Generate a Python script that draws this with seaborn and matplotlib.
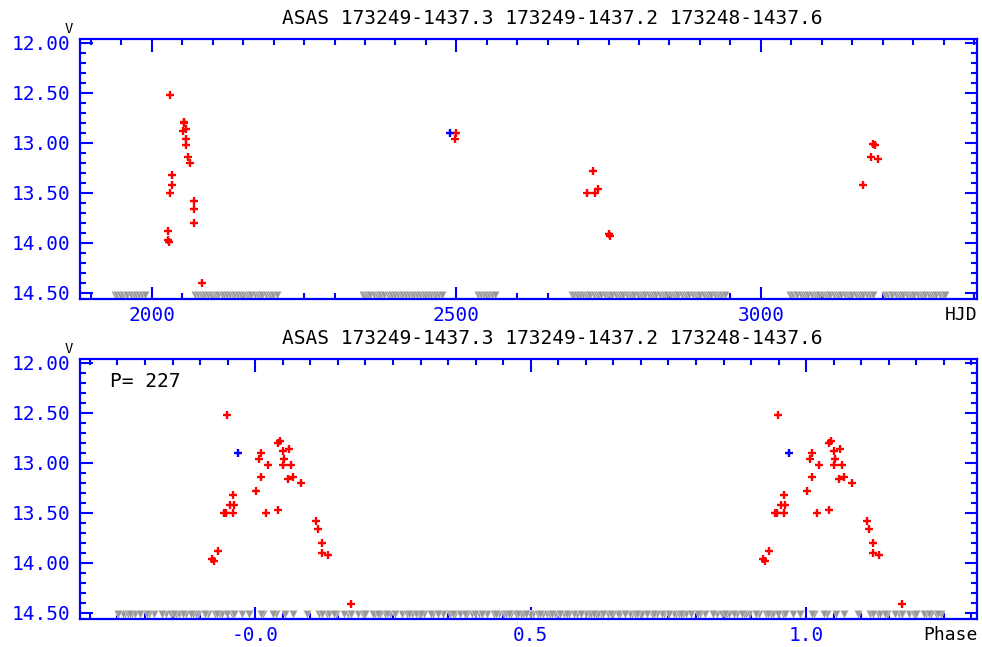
import matplotlib
matplotlib.use("Agg")
import matplotlib.pyplot as plt
import seaborn as sns
import numpy as np
import pandas as pd
from matplotlib.ticker import MultipleLocator

# ---------------- data ----------------
title_text = "ASAS 173249-1437.3 173249-1437.2 173248-1437.6"
period = 227.0
epoch = 1814.6

# top panel: detections (HJD-2450000, V mag)
red_hjd = [2030, 2052, 2053, 2056, 2051, 2056, 2056, 2059, 2063, 2033, 2033, 2030,
           2069, 2069, 2069, 2027, 2027, 2028, 2083,
           2500, 2498,
           2724, 2714, 2727, 2733, 2751, 2753,
           3185, 3187, 3181, 3192, 3168]
red_mag = [12.52, 12.79, 12.80, 12.86, 12.88, 12.96, 13.02, 13.14, 13.20, 13.32, 13.42, 13.50,
           13.58, 13.66, 13.80, 13.88, 13.97, 13.99, 14.40,
           12.90, 12.96,
           13.28, 13.50, 13.50, 13.46, 13.91, 13.93,
           13.01, 13.02, 13.14, 13.16, 13.42]
blue_hjd = [2490]
blue_mag = [12.90]

# bottom panel: detections read in phase
red_phase = [-0.051, 0.006, 0.010, 0.024, 0.010, 0.002, 0.020, 0.042, 0.042, 0.045,
             0.050, 0.061, 0.053, 0.050, 0.065, 0.060, 0.068, 0.083, -0.041, -0.045,
             -0.038, -0.056, -0.053, -0.041, -0.067, -0.078, -0.074, 0.111, 0.114,
             0.122, 0.122, 0.132, 0.174]
red_pmag = [12.52, 12.96, 12.90, 13.02, 13.14, 13.28, 13.50, 13.47, 12.80, 12.78,
            12.88, 12.86, 12.96, 13.02, 13.02, 13.16, 13.14, 13.20, 13.32, 13.42,
            13.42, 13.50, 13.50, 13.50, 13.88, 13.96, 13.98, 13.58, 13.66,
            13.80, 13.90, 13.92, 14.41]
blue_phase = [-0.031]
blue_pmag = [12.90]

# upper limits (fainter than plot limit), HJD-2450000
limit_hjd = [1939, 1943, 1947, 1952, 1957, 1960, 1965, 1970, 1974, 1979, 1983, 1988,
             2071, 2075, 2080, 2084, 2087, 2093, 2097, 2102, 2106, 2109, 2115, 2119,
             2123, 2128, 2134, 2137, 2141, 2146, 2151, 2156, 2160, 2163, 2169, 2174,
             2178, 2181, 2187, 2192, 2196, 2199, 2205,
             2346, 2351, 2355, 2358, 2364, 2369, 2373, 2376, 2382, 2387, 2391, 2394,
             2400, 2405, 2409, 2412, 2418, 2423, 2427, 2430, 2436, 2441, 2445, 2448,
             2454, 2459, 2463, 2466, 2472, 2476,
             2535, 2540, 2545, 2549, 2553, 2558, 2563,
             2690, 2694, 2698, 2703, 2708, 2713, 2717, 2720, 2726, 2731, 2735, 2738,
             2744, 2749, 2753, 2756, 2762, 2767, 2771, 2774, 2780, 2785, 2789, 2792,
             2798, 2803, 2807, 2810, 2816, 2821, 2825, 2828, 2834, 2839, 2843, 2846,
             2852, 2857, 2861, 2864, 2870, 2875, 2879, 2882, 2888, 2893, 2897, 2900,
             2906, 2911, 2915, 2918, 2924, 2929, 2933, 2936, 2941,
             3048, 3053, 3057, 3060, 3066, 3071, 3075, 3078, 3084, 3089, 3093, 3096,
             3102, 3107, 3111, 3114, 3120, 3125, 3129, 3132, 3138, 3143, 3147, 3150,
             3156, 3161, 3165, 3168, 3174, 3179, 3184,
             3204, 3209, 3213, 3216, 3222, 3227, 3231, 3234, 3240, 3245, 3249, 3252,
             3258, 3263, 3267, 3270, 3276, 3281, 3285, 3288, 3294, 3299, 3302]
limit_mag = 14.515

top_xticks = [2000, 2500, 3000]
top_xticklabels = ["2000", "2500", "3000"]
bot_xticks = [0.0, 0.5, 1.0]
bot_xticklabels = ["-0.0", "0.5", "1.0"]
yticks = [12.0, 12.5, 13.0, 13.5, 14.0, 14.5]
yticklabels = ["12.00", "12.50", "13.00", "13.50", "14.00", "14.50"]


def fold_pairs(ph, mag):
    """Phases in [0,1) plus their copies inside the -0.25..1.25 window."""
    ph = np.mod(np.asarray(ph, float), 1.0)
    mag = np.asarray(mag, float)
    xs = [ph, ph[ph < 0.25] + 1.0, ph[ph > 0.75] - 1.0]
    ys = [mag, mag[ph < 0.25], mag[ph > 0.75]]
    return np.concatenate(xs), np.concatenate(ys)


# ---------------- style ----------------
sns.set_theme(style="white")
plt.rcParams['font.family'] = ['DejaVu Sans Mono', 'DejaVu Sans']

BLUE = "#0000ff"
RED = "#ff0000"
GRAY = "#999999"

fig = plt.figure(figsize=(9.82, 6.47), dpi=100)
ax1 = fig.add_axes([80 / 982, 1 - 299 / 647, 897 / 982, 260 / 647])
ax2 = fig.add_axes([80 / 982, 1 - 619 / 647, 897 / 982, 260 / 647])

lim_kw = dict(marker="v", s=36, color=GRAY, edgecolor="white", linewidth=0.25,
              legend=False, zorder=2)
pt_kw = dict(marker="+", s=30, linewidth=1.7, legend=False, zorder=3)

# ---- top panel ----
lim_df = pd.DataFrame({"x": limit_hjd, "y": [limit_mag] * len(limit_hjd)})
sns.scatterplot(data=lim_df, x="x", y="y", ax=ax1, **lim_kw)
red_df = pd.DataFrame({"x": red_hjd, "y": red_mag})
sns.scatterplot(data=red_df, x="x", y="y", ax=ax1, color=RED, **pt_kw)
blue_df = pd.DataFrame({"x": blue_hjd, "y": blue_mag})
sns.scatterplot(data=blue_df, x="x", y="y", ax=ax1, color=BLUE, **pt_kw)
ax1.set_xlim(1882, 3355)

# ---- bottom panel ----
lim_ph = np.mod((np.asarray(limit_hjd, float) - epoch) / period, 1.0)
lx, ly = fold_pairs(lim_ph, [limit_mag] * len(limit_hjd))
sns.scatterplot(x=lx, y=ly, ax=ax2, **lim_kw)
rx, ry = fold_pairs(red_phase, red_pmag)
sns.scatterplot(x=rx, y=ry, ax=ax2, color=RED, **pt_kw)
bx, by = fold_pairs(blue_phase, blue_pmag)
sns.scatterplot(x=bx, y=by, ax=ax2, color=BLUE, **pt_kw)
ax2.set_xlim(-0.318, 1.310)

for ax, xt, xtl, xminor, xlab, xlab_x in [
        (ax1, top_xticks, top_xticklabels, 50, "HJD", 0.982),
        (ax2, bot_xticks, bot_xticklabels, 0.05, "Phase", 0.970)]:
    ax.set_ylim(14.56, 11.96)
    ax.set_xlabel("")
    ax.set_ylabel("")
    ax.set_xticks(xt)
    ax.set_xticklabels(xtl)
    ax.xaxis.set_minor_locator(MultipleLocator(xminor))
    ax.set_yticks(yticks)
    ax.set_yticklabels(yticklabels)
    ax.yaxis.set_minor_locator(MultipleLocator(0.1))
    ax.tick_params(which="both", direction="in", top=True, right=True,
                   bottom=True, left=True, color=BLUE, width=1.5)
    ax.tick_params(which="major", length=9, labelsize=14, labelcolor=BLUE)
    ax.tick_params(which="minor", length=4.5)
    ax.tick_params(axis="x", which="major", pad=5)
    ax.tick_params(axis="y", which="major", pad=7)
    for sp in ax.spines.values():
        sp.set_color(BLUE)
        sp.set_linewidth(1.6)
        sp.set_visible(True)
    ax.set_facecolor("white")
    ax.grid(False)
    ax.text(0.527, 1.08, title_text, transform=ax.transAxes, ha="center",
            va="center", fontsize=14, color="black")
    ax.text(-0.012, 1.04, "V", transform=ax.transAxes, ha="center",
            va="center", fontsize=10, color="black")
    ax.text(xlab_x, -0.063, xlab, transform=ax.transAxes,
            ha="center", va="center", fontsize=13, color="black")

ax2.text(0.033, 0.912, "P= 227", transform=ax2.transAxes, ha="left",
         va="center", fontsize=14, color="black")

fig.savefig("out.png", dpi=100, facecolor="white")
